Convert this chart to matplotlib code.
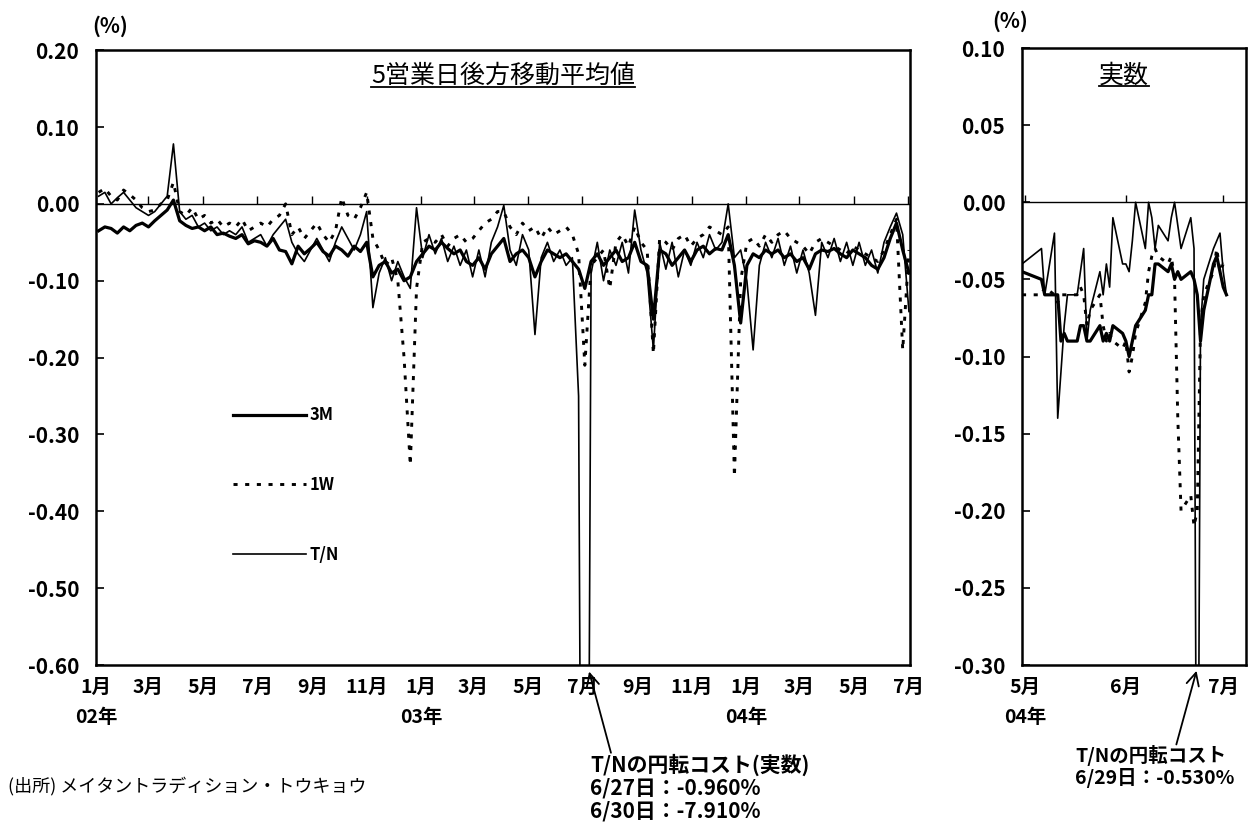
import pandas as pd
import matplotlib.pyplot as plt

plt.rcParams['font.family'] = ['Noto Sans CJK JP', 'DejaVu Sans']

# 5-day backward moving average (%), one reading per Friday from 2002-01-04
week_start = '2002-01-04'
ma_3m = [
    -0.035, -0.030, -0.032, -0.038,
    -0.030, -0.035, -0.028, -0.025,
    -0.030, -0.022, -0.015, -0.008, 0.005,
    -0.022, -0.028, -0.032, -0.030,
    -0.035, -0.030, -0.040, -0.038, -0.042,
    -0.045, -0.040, -0.052, -0.048,
    -0.050, -0.055, -0.045, -0.060,
    -0.062, -0.078, -0.055, -0.065, -0.058,
    -0.050, -0.062, -0.068, -0.055,
    -0.060, -0.068, -0.055, -0.062,
    -0.050, -0.095, -0.080, -0.075, -0.090,
    -0.085, -0.100, -0.095, -0.075,
    -0.065, -0.055, -0.060, -0.050, -0.058,
    -0.065, -0.060, -0.075, -0.080,
    -0.070, -0.085, -0.065, -0.055,
    -0.045, -0.075, -0.065, -0.060,
    -0.070, -0.095, -0.075, -0.060, -0.065,
    -0.070, -0.065, -0.075, -0.085,
    -0.110, -0.075, -0.065, -0.080,
    -0.070, -0.060, -0.075, -0.070, -0.050,
    -0.075, -0.080, -0.150, -0.060,
    -0.065, -0.080, -0.070, -0.060, -0.075,
    -0.060, -0.055, -0.065, -0.058,
    -0.060, -0.040, -0.080, -0.155,
    -0.080, -0.065, -0.070, -0.060, -0.065,
    -0.060, -0.070, -0.065, -0.075,
    -0.070, -0.085, -0.065, -0.060,
    -0.062, -0.058, -0.065, -0.070, -0.060,
    -0.065, -0.070, -0.080, -0.085,
    -0.070, -0.045, -0.025, -0.060,
    -0.090,
]
ma_1w = [
    0.015, 0.020, 0.010, 0.005,
    0.018, 0.012, 0.005, -0.005,
    -0.010, -0.008, 0.000, 0.005, 0.028,
    -0.010, -0.015, -0.005, -0.020,
    -0.015, -0.025, -0.020, -0.030, -0.025,
    -0.030, -0.020, -0.035, -0.030,
    -0.025, -0.030, -0.020, -0.015,
    0.000, -0.040, -0.030, -0.045, -0.035,
    -0.025, -0.040, -0.050, -0.035,
    0.008, -0.015, -0.020, -0.005,
    0.015, -0.045, -0.060, -0.080, -0.070,
    -0.100, -0.200, -0.340, -0.110,
    -0.050, -0.045, -0.050, -0.040, -0.055,
    -0.045, -0.040, -0.050, -0.045,
    -0.035, -0.025, -0.020, -0.010,
    -0.010, -0.030, -0.040, -0.025,
    -0.035, -0.030, -0.045, -0.030, -0.040,
    -0.035, -0.030, -0.040, -0.065,
    -0.210, -0.080, -0.070, -0.060,
    -0.110, -0.050, -0.040, -0.055, -0.030,
    -0.050, -0.060, -0.195, -0.045,
    -0.050, -0.060, -0.045, -0.040, -0.055,
    -0.045, -0.040, -0.030, -0.035,
    -0.040, -0.030, -0.355, -0.100,
    -0.050, -0.045, -0.055, -0.040, -0.050,
    -0.040, -0.035, -0.045, -0.050,
    -0.055, -0.065, -0.050, -0.045,
    -0.050, -0.055, -0.060, -0.065, -0.055,
    -0.060, -0.065, -0.070, -0.075,
    -0.060, -0.040, -0.020, -0.190,
    -0.060,
]
ma_tn = [
    0.010, 0.015, 0.000, 0.008,
    0.015, 0.005, -0.005, -0.010,
    -0.015, -0.010, 0.000, 0.010, 0.078,
    -0.010, -0.020, -0.015, -0.030,
    -0.025, -0.035, -0.030, -0.040, -0.035,
    -0.040, -0.030, -0.050, -0.045,
    -0.040, -0.055, -0.040, -0.030,
    -0.020, -0.050, -0.065, -0.075, -0.060,
    -0.045, -0.060, -0.075, -0.050,
    -0.030, -0.045, -0.060, -0.040,
    -0.010, -0.135, -0.090, -0.070, -0.100,
    -0.075, -0.095, -0.110, -0.005,
    -0.070, -0.040, -0.065, -0.045, -0.075,
    -0.055, -0.080, -0.060, -0.095,
    -0.060, -0.095, -0.050, -0.030,
    -0.002, -0.060, -0.080, -0.040,
    -0.060, -0.170, -0.070, -0.050, -0.075,
    -0.060, -0.080, -0.070, -0.250,
    -1.900, -0.090, -0.050, -0.100,
    -0.060, -0.080, -0.050, -0.090, -0.008,
    -0.060, -0.090, -0.190, -0.050,
    -0.085, -0.050, -0.095, -0.060, -0.080,
    -0.050, -0.070, -0.040, -0.060,
    -0.050, 0.000, -0.070, -0.060,
    -0.100, -0.190, -0.080, -0.050, -0.070,
    -0.045, -0.080, -0.055, -0.090,
    -0.060, -0.090, -0.145, -0.050,
    -0.070, -0.045, -0.075, -0.050, -0.080,
    -0.050, -0.080, -0.060, -0.090,
    -0.050, -0.030, -0.012, -0.040,
    -0.140,
]

# daily actual values (%), Tokyo business days 2004-04-30 .. 2004-07-02
day_first, day_last = '2004-04-30', '2004-07-02'
day_holidays = ['2004-05-03', '2004-05-04', '2004-05-05']
day_3m = [
    -0.045,
    -0.050, -0.060, -0.060, -0.060, -0.090, -0.085, -0.090, -0.090, -0.080,
    -0.080, -0.090, -0.090, -0.080, -0.090, -0.085, -0.090, -0.080, -0.085,
    -0.090, -0.100, -0.090, -0.080, -0.070, -0.060, -0.060, -0.040, -0.040,
    -0.045, -0.040, -0.050, -0.045, -0.050, -0.045, -0.050, -0.060, -0.090,
    -0.070, -0.040, -0.035, -0.045,
    -0.055, -0.060,
]
day_1w = [
    -0.060,
    -0.060, -0.055, -0.060, -0.065, -0.060, -0.060, -0.060, -0.060, -0.055,
    -0.060, -0.080, -0.070, -0.060, -0.080, -0.090, -0.085, -0.090, -0.095,
    -0.090, -0.110, -0.100, -0.085, -0.065, -0.045, -0.035, -0.030, -0.035,
    -0.040, -0.035, -0.050, -0.140, -0.200, -0.190, -0.210, -0.200, -0.080,
    -0.060, -0.045, -0.030, -0.045,
    -0.040, -0.040,
]
day_tn = [
    -0.040,
    -0.030, -0.060, -0.020, -0.140, -0.110, -0.080, -0.060, -0.060, -0.045,
    -0.030, -0.090, -0.070, -0.045, -0.060, -0.040, -0.055, -0.010, -0.040,
    -0.040, -0.045, -0.025, 0.000, -0.030, 0.000, -0.010, -0.030, -0.015,
    -0.025, -0.010, 0.000, -0.015, -0.030, -0.010, -0.030, -0.530, -0.080,
    -0.050, -0.030, -0.025, -0.020,
    -0.045, -0.060,
]

left_months = pd.date_range('2002-01-01', '2004-07-01', freq='2MS')
left_labels = ['1月\n02年', '3月', '5月', '7月', '9月', '11月',
               '1月\n03年', '3月', '5月', '7月', '9月', '11月',
               '1月\n04年', '3月', '5月', '7月']
right_months = pd.to_datetime(['2004-05-01', '2004-06-01', '2004-07-01'])
right_labels = ['5月\n04年', '6月', '7月']

week_dates = pd.date_range(week_start, periods=len(ma_3m), freq='7D')
day_dates = pd.bdate_range(day_first, day_last, freq='C', holidays=day_holidays)

DOT = (0, (1.4, 2.6))

fig = plt.figure(figsize=(12.56, 8.32), dpi=100)
ax = fig.add_axes([0.0764, 0.2007, 0.648, 0.739])
ax2 = fig.add_axes([0.8137, 0.2007, 0.1783, 0.7416])


def style(a, ylim, yticks, months, labels, tick_h):
    a.set_ylim(*ylim)
    a.set_yticks(yticks)
    a.set_yticklabels(['%.2f' % v for v in yticks])
    a.set_xticks(months)
    a.set_xticklabels(labels, linespacing=1.75)
    a.tick_params(axis='y', direction='in', length=6, width=1.2, pad=12,
                  labelsize=15)
    a.tick_params(axis='x', length=0, pad=9, labelsize=14)
    for lab in a.get_xticklabels() + a.get_yticklabels():
        lab.set_fontweight('bold')
    for s in a.spines.values():
        s.set_linewidth(1.8)
    a.axhline(0, color='k', lw=1.0, zorder=1)
    # month ticks sit on the zero line, pointing up
    a.vlines(months, 0, tick_h, color='k', lw=1.0)


# left panel: moving averages
ax.plot(week_dates, ma_3m, color='k', lw=2.3, label='3M')
ax.plot(week_dates, ma_1w, color='k', lw=2.1, linestyle=DOT, label='1W')
ax.plot(week_dates, ma_tn, color='k', lw=1.2, label='T/N')
ax.set_xlim(pd.Timestamp('2002-01-01'), pd.Timestamp('2004-07-03'))
style(ax, (-0.60, 0.20), [0.20, 0.10, 0.00, -0.10, -0.20, -0.30, -0.40, -0.50, -0.60],
      left_months, left_labels, 0.010)

leg = ax.legend(loc='upper left', bbox_to_anchor=(0.15, 0.445), frameon=False,
                handlelength=4.4, handletextpad=0.2, labelspacing=3.1,
                prop={'size': 12, 'weight': 'bold'})

t1 = ax.text(0.5, 0.958, '5営業日後方移動平均値', transform=ax.transAxes,
             ha='center', va='center', fontsize=18)

# right panel: actual values
ax2.plot(day_dates, day_3m, color='k', lw=2.3)
ax2.plot(day_dates, day_1w, color='k', lw=2.1, linestyle=DOT)
ax2.plot(day_dates, day_tn, color='k', lw=1.2)
ax2.set_xlim(pd.Timestamp('2004-04-30'), pd.Timestamp('2004-07-08'))
style(ax2, (-0.30, 0.10), [0.10, 0.05, 0.00, -0.05, -0.10, -0.15, -0.20, -0.25, -0.30],
      right_months, right_labels, 0.005)

t2 = ax2.text(0.455, 0.955, '実数', transform=ax2.transAxes,
              ha='center', va='center', fontsize=18)

fig.text(0.088, 0.968, '(%)', ha='center', va='center', fontsize=15, fontweight='bold')
fig.text(0.804, 0.974, '(%)', ha='center', va='center', fontsize=15, fontweight='bold')

# arrows to the off-scale T/N readings
arrow = dict(arrowstyle='->,head_length=0.9,head_width=0.45', color='k', lw=1.3)
ax.annotate('', xy=(pd.Timestamp('2003-07-08'), -0.605), xycoords='data',
            xytext=(0.487, 0.092), textcoords='figure fraction',
            arrowprops=arrow, annotation_clip=False)
ax2.annotate('', xy=(pd.Timestamp('2004-06-23'), -0.302), xycoords='data',
             xytext=(0.936, 0.102), textcoords='figure fraction',
             arrowprops=arrow, annotation_clip=False)

fig.text(0.470, 0.094, 'T/Nの円転コスト(実数)\n6/27日：-0.960%\n6/30日：-7.910%',
         ha='left', va='top', fontsize=15, fontweight='bold', linespacing=1.1)
fig.text(0.856, 0.104, 'T/Nの円転コスト\n6/29日：-0.530%',
         ha='left', va='top', fontsize=14, fontweight='bold', linespacing=1.1)
fig.text(0.006, 0.055, '(出所) メイタントラディション・トウキョウ',
         ha='left', va='center', fontsize=13)

# underline the two panel titles
fig.canvas.draw()
for a, t in ((ax, t1), (ax2, t2)):
    bb = t.get_window_extent().transformed(a.transAxes.inverted())
    a.plot([bb.x0, bb.x1], [bb.y0 + 0.004, bb.y0 + 0.004], transform=a.transAxes,
           color='k', lw=1.3)

fig.savefig('out.png', dpi=100)
